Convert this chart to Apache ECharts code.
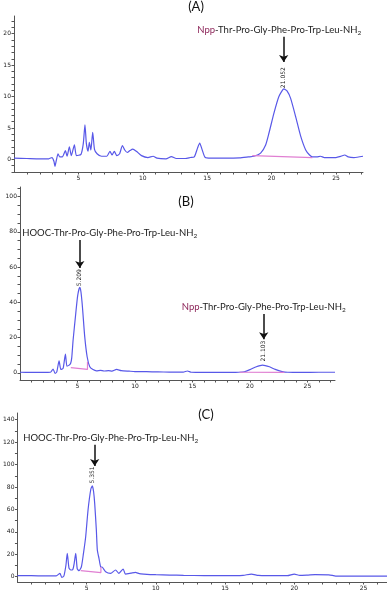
<!DOCTYPE html>
<html>
<head>
<meta charset="utf-8">
<script src="https://cdn.jsdelivr.net/npm/echarts@6/dist/echarts.min.js"></script>
<style>
  html, body { margin: 0; padding: 0; background: #fff; }
  #chart { width: 387px; height: 592px; }
</style>
</head>
<body>
<div id="chart"></div>
<script>
// (A) retention time (min) / signal
const timeA = [0, 1.0, 2.0, 2.7, 2.95, 3.1, 3.18, 3.28, 3.42, 3.55, 3.75, 3.99, 4.12, 4.3, 4.45, 4.69, 4.85, 5.2, 5.38, 5.51, 5.62, 5.75, 5.85, 5.97, 6.11, 6.25, 6.45, 6.8, 7.2, 7.45, 7.62, 7.79, 7.98, 8.2, 8.42, 8.6, 8.8, 9.0, 9.22, 9.5, 9.9, 10.4, 10.8, 11.1, 11.8, 12.22, 12.6, 13.3, 13.7, 14.0, 14.25, 14.42, 14.6, 14.85, 15.3, 16.5, 17.5, 18.2, 18.63, 19.15, 19.54, 19.8, 20.19, 20.57, 20.96, 21.2, 21.48, 21.87, 22.26, 22.65, 22.95, 23.17, 23.5, 23.8, 24.1, 25.0, 25.4, 25.68, 25.95, 26.4, 27.1];
const signalA = [0.2, 0.15, 0.1, 0.1, 0.3, -0.3, -1.1, -0.2, 0.9, 0.4, 0.4, 1.4, 0.5, 2.0, 0.6, 2.3, 0.6, 0.8, 2.5, 5.5, 2.5, 1.3, 2.7, 1.5, 4.3, 1.6, 0.9, 0.5, 0.5, 1.3, 0.7, 1.3, 0.6, 0.9, 2.2, 1.5, 1.1, 1.4, 1.65, 1.3, 0.6, 0.3, 0.5, 0.2, 0.1, 0.45, 0.15, 0.15, 0.3, 0.4, 1.8, 2.6, 1.6, 0.3, 0.2, 0.2, 0.25, 0.4, 0.5, 1.0, 2.3, 4.2, 7.4, 10.0, 11.2, 10.9, 9.7, 6.8, 3.7, 1.5, 0.7, 0.4, 0.4, 0.5, 0.3, 0.3, 0.5, 0.7, 0.4, 0.3, 0.5];
const baseTimeA = [18.5, 23.17];
const baseSignalA = [0.6, 0.27];

// (B)
const timeB = [0, 1.0, 2.0, 2.65, 2.88, 3.05, 3.2, 3.4, 3.55, 3.75, 3.95, 4.08, 4.25, 4.4, 4.5, 4.62, 4.85, 5.02, 5.2, 5.3, 5.43, 5.63, 5.84, 6.07, 6.35, 6.65, 7.0, 7.3, 7.7, 8.0, 8.4, 8.8, 9.5, 10.0, 11.0, 12.0, 13.0, 14.2, 14.56, 14.9, 16.0, 17.5, 18.5, 19.0, 19.5, 20.0, 20.5, 21.1, 21.7, 22.2, 22.8, 23.3, 24.5, 26.0, 27.4];
const signalB = [0.3, 0.25, 0.2, 0.3, 2.1, -0.3, 0.5, 6.8, 1.9, 2.5, 10.6, 3.8, 4.2, 5.3, 8.5, 18.6, 33.7, 44, 48.5, 46, 37.5, 20.5, 9.1, 3.4, 1.8, 1.1, 1.4, 1.0, 1.2, 0.9, 1.9, 1.2, 0.9, 0.7, 0.6, 0.5, 0.4, 0.4, 1.0, 0.3, 0.2, 0.2, 0.2, 0.3, 0.6, 1.8, 3.3, 4.4, 3.4, 1.9, 0.7, 0.3, 0.2, 0.3, 0.3];
const baseTimeB1 = [4.42, 5.87, 5.87];
const baseSignalB1 = [2.9, 1.9, 6.2];
const baseTimeB2 = [19.1, 23.0];
const baseSignalB2 = [0.3, 0.2];

// (C)
const timeC = [0, 1.0, 2.0, 2.8, 3.07, 3.2, 3.35, 3.5, 3.6, 3.72, 3.85, 4.0, 4.1, 4.21, 4.32, 4.45, 4.62, 4.77, 4.93, 5.1, 5.3, 5.41, 5.5, 5.58, 5.7, 5.77, 5.89, 6.01, 6.13, 6.37, 6.73, 7.09, 7.33, 7.64, 7.8, 8.2, 8.52, 8.8, 9.12, 10.0, 11.0, 12.0, 13.5, 15.0, 16.3, 16.9, 17.4, 18.0, 19.5, 20.0, 20.4, 21.0, 21.5, 22.5, 23.0, 24.0, 26.73];
const signalC = [0.9, 0.9, 0.8, 0.8, 3.0, -0.5, 0.5, 10, 20.9, 8, 6.0, 6.5, 12, 20.9, 7, 5.4, 8.9, 20.9, 35.7, 59.5, 78, 81, 76, 65.5, 41.7, 23.8, 16.4, 8.9, 8.5, 4.5, 3.0, 6.0, 3.0, 6.9, 2.4, 3.2, 3.9, 2.8, 2.4, 1.8, 1.5, 1.2, 1.0, 0.9, 1.2, 2.4, 1.2, 0.9, 0.9, 2.4, 1.2, 1.5, 1.8, 1.7, 0.6, 0.5, 0.5];
const baseTimeC = [4.57, 6.03, 6.03];
const baseSignalC = [5.4, 3.7, 8.7];

// axis ticks / labels
const xLabels = [5, 10, 15, 20, 25];
const yLabelsA = [0, 5, 10, 15, 20];
const yLabelsB = [0, 20, 40, 60, 80, 100];
const yLabelsC = [0, 20, 40, 60, 80, 100, 120, 140];

function pairs(xs, ys) {
  return xs.map((x, i) => [x, ys[i]]);
}
function range(a, b, step) {
  let out = [];
  for (let v = a; v <= b + 1e-9; v += step) out.push(+v.toFixed(3));
  return out;
}

const axisColor = "#555";
const labelStyle = { color: "#1a1a1a", fontSize: 6, fontFamily: "DejaVu Sans" };

function xAxisFor(grid, max) {
  return {
    type: "value",
    gridIndex: grid,
    min: 0,
    max: max,
    axisLine: { onZero: false, lineStyle: { color: axisColor, width: 1 } },
    axisTick: { customValues: range(1, Math.floor(max), 1), length: 2.5, lineStyle: { color: axisColor } },
    axisLabel: Object.assign({ customValues: xLabels, margin: 3 }, labelStyle),
    splitLine: { show: false },
  };
}
function yAxisFor(grid, min, max, labels, tickStep) {
  return {
    type: "value",
    gridIndex: grid,
    min: min,
    max: max,
    axisLine: { show: true, onZero: false, lineStyle: { color: axisColor, width: 1 } },
    axisTick: { show: true, customValues: range(Math.ceil(min / tickStep) * tickStep, max, tickStep), length: 2.5, lineStyle: { color: axisColor } },
    axisLabel: Object.assign({ customValues: labels, margin: 3 }, labelStyle),
    splitLine: { show: false },
  };
}

const blue = "#5858e8";
const pink = "#e07fd2";

// peptide label, "Npp" or "HOOC" prefix
function peptide(prefix) {
  if (prefix === "Npp") return "{n|Npp}{t|-Thr-Pro-Gly-Phe-Pro-Trp-Leu-NH}{s|2}";
  return "{t|HOOC-Thr-Pro-Gly-Phe-Pro-Trp-Leu-NH}{s|2}";
}
const peptideRich = {
  n: { color: "#8c2458", fontSize: 9.5, fontFamily: "Lato" },
  t: { color: "#222", fontSize: 9.5, fontFamily: "Lato" },
  s: { color: "#222", fontSize: 6.5, fontFamily: "Lato", padding: [6, 0, 0, 0] },
};

function notes(labelAt, prefix, arrowX, arrowFrom, arrowTo, rtAt, rtText) {
  return {
    markPoint: {
      silent: true,
      symbol: "circle",
      symbolSize: 0,
      animation: false,
      label: { show: true, position: "inside" },
      data: [
        { coord: labelAt, label: { formatter: peptide(prefix), rich: peptideRich } },
        { coord: rtAt, label: { formatter: rtText, rotate: 90, fontSize: 6, color: "#1a1a1a", fontFamily: "DejaVu Sans" } },
      ],
    },
    markLine: {
      silent: true,
      animation: false,
      symbol: ["none", "arrow"],
      symbolSize: 7,
      label: { show: false },
      lineStyle: { color: "#111", width: 1.5, type: "solid" },
      data: [[{ coord: [arrowX, arrowFrom] }, { coord: [arrowX, arrowTo] }]],
    },
  };
}

function trace(xi, data, extra) {
  return Object.assign({
    type: "line",
    xAxisIndex: xi,
    yAxisIndex: xi,
    data: data,
    showSymbol: false,
    smooth: 0.2,
    lineStyle: { color: blue, width: 1.2 },
  }, extra || {});
}
function baseline(xi, data) {
  return {
    type: "line",
    xAxisIndex: xi,
    yAxisIndex: xi,
    data: data,
    showSymbol: false,
    lineStyle: { color: pink, width: 1.2 },
  };
}

const chart = echarts.init(document.getElementById("chart"));
chart.setOption({
  animation: false,
  graphic: [
    { type: "text", x: 196, y: 7, style: { text: "(A)", fontSize: 13, fontFamily: "Lato", fill: "#111", textAlign: "center", textVerticalAlign: "middle" } },
    { type: "text", x: 186, y: 202, style: { text: "(B)", fontSize: 13, fontFamily: "Lato", fill: "#111", textAlign: "center", textVerticalAlign: "middle" } },
    { type: "text", x: 206, y: 415, style: { text: "(C)", fontSize: 13, fontFamily: "Lato", fill: "#111", textAlign: "center", textVerticalAlign: "middle" } },
  ],
  grid: [
    { left: 14, top: 16, width: 349, height: 156 },
    { left: 20, top: 187, width: 315, height: 193 },
    { left: 15, top: 413, width: 372, height: 169 },
  ],
  xAxis: [xAxisFor(0, 27.1), xAxisFor(1, 27.4), xAxisFor(2, 26.7)],
  yAxis: [
    yAxisFor(0, -2, 22.8, yLabelsA, 1),
    yAxisFor(1, -4.1, 105.5, yLabelsB, 5),
    yAxisFor(2, -4.7, 146, yLabelsC, 10),
  ],
  series: [
    trace(0, pairs(timeA, signalA), notes([20.6, 20.6], "Npp", 20.94, 19.5, 15.5, [20.94, 13], "21.052")),
    baseline(0, pairs(baseTimeA, baseSignalA)),
    trace(1, pairs(timeB, signalB), notes([7.8, 79.5], "HOOC", 5.2, 75.4, 59.5, [5.2, 54], "5.209")),
    baseline(1, pairs(baseTimeB1, baseSignalB1)),
    baseline(1, pairs(baseTimeB2, baseSignalB2)),
    trace(1, [], notes([21.2, 37.2], "Npp", 21.2, 33.4, 19.1, [21.2, 12.3], "21.103")),
    trace(2, pairs(timeC, signalC), notes([6.74, 123.6], "HOOC", 5.58, 117.6, 98.8, [5.45, 90.8], "5.351")),
    baseline(2, pairs(baseTimeC, baseSignalC)),
  ],
});
</script>
</body>
</html>
